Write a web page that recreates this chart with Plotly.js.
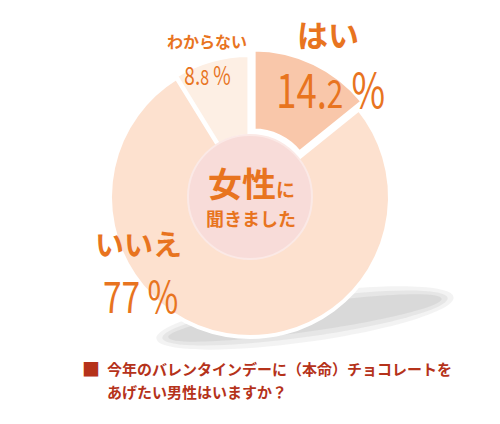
<!DOCTYPE html>
<html>
<head>
<meta charset="utf-8">
<script src="https://cdn.plot.ly/plotly-3.0.1.min.js"></script>
<style>
  html, body { margin: 0; padding: 0; background: #fff; }
  #plotDiv { width: 500px; height: 424px; }
  /* the percentage figures are drawn in a narrow face in the original */
  .annotation[data-index="1"] text,
  .annotation[data-index="3"] text,
  .annotation[data-index="5"] text {
      transform-box: fill-box;
      transform-origin: center;
      transform: scaleX(0.76);
  }
</style>
</head>
<body>
<div id="plotDiv"></div>
<script>
/* =========================
   Survey pie (donut)
========================= */

const labels = ['はい', 'いいえ', 'わからない'];
const values = [14.2, 77, 8.8];
const sliceColors = ['#f9c7aa', '#fde1cf', '#fdefe4'];
const slicePull = [0.06, 0, 0.015];
const centerLines = ['女性', 'に', '聞きました'];
const question = ['今年のバレンタインデーに（本命）チョコレートを', 'あげたい男性はいますか？'];

const W = 500, H = 424;
const ORANGE = '#e8741f';
const JP = '"Noto Sans CJK JP", "Noto Sans", sans-serif';

// pixel helpers (margins are zero, so paper == pixels / size)
const px = x => x / W;
const py = y => 1 - y / H;

function pctText(v, size) {
    const [whole, dec] = String(v).split('.');
    const decPart = dec ? `.<span style="font-size:${Math.round(size * 0.82)}px">${dec}</span>` : '';
    return `${whole}${decPart} %`;
}

// tilted ellipse drawn as a bezier path (used for the floor shadow)
function ellipsePath(cx, cy, a, b, deg) {
    const t = deg * Math.PI / 180, k = 0.5523;
    const pt = (u, v) => {
        const x = cx + u * Math.cos(t) - v * Math.sin(t);
        const y = cy + u * Math.sin(t) + v * Math.cos(t);
        return `${px(x).toFixed(4)},${py(y).toFixed(4)}`;
    };
    return `M${pt(a, 0)} C${pt(a, b * k)} ${pt(a * k, b)} ${pt(0, b)}` +
        ` C${pt(-a * k, b)} ${pt(-a, b * k)} ${pt(-a, 0)}` +
        ` C${pt(-a, -b * k)} ${pt(-a * k, -b)} ${pt(0, -b)}` +
        ` C${pt(a * k, -b)} ${pt(a, -b * k)} ${pt(a, 0)} Z`;
}

const cx = 250, cy = 197, R = 140, holeR = 62;
const maxPull = Math.max(...slicePull);
const domR = R * (1 + maxPull);

const donut = {
    type: 'pie',
    labels,
    values,
    sort: false,
    direction: 'clockwise',
    rotation: 0,
    hole: 0.42,
    pull: slicePull,
    textinfo: 'none',
    hoverinfo: 'skip',
    showlegend: false,
    marker: { colors: sliceColors, line: { color: '#ffffff', width: 4 } },
    domain: { x: [px(cx - domR), px(cx + domR)], y: [py(cy + domR), py(cy - domR)] }
};

const centerDisc = {
    type: 'pie',
    labels: ['center'],
    values: [1],
    textinfo: 'none',
    hoverinfo: 'skip',
    showlegend: false,
    marker: { colors: ['#f8dcd9'], line: { color: '#fbe9e6', width: 2 } },
    domain: { x: [px(cx - holeR), px(cx + holeR)], y: [py(cy + holeR), py(cy - holeR)] }
};

const labelPos = [
    { name: [328, 33, 31], pct: [330, 87, 48] },
    { name: [138, 243, 29], pct: [140, 294, 44] },
    { name: [207, 41, 16], pct: [207, 74, 25] }
];

const annotations = [];
labels.forEach((lab, i) => {
    const p = labelPos[i];
    annotations.push({
        xref: 'paper', yref: 'paper', x: px(p.name[0]), y: py(p.name[1]),
        text: `<b>${lab}</b>`, showarrow: false, xanchor: 'center', yanchor: 'middle',
        font: { family: JP, size: p.name[2], color: ORANGE }
    });
    annotations.push({
        xref: 'paper', yref: 'paper', x: px(p.pct[0]), y: py(p.pct[1]),
        text: pctText(values[i], p.pct[2]), showarrow: false, xanchor: 'center', yanchor: 'middle',
        font: { family: JP, size: p.pct[2], color: ORANGE }
    });
});

annotations.push(
    {
        xref: 'paper', yref: 'paper', x: px(251), y: py(182),
        text: `<b>${centerLines[0]}</b><b><span style="font-size:19px">${centerLines[1]}</span></b>`,
        showarrow: false, xanchor: 'center', yanchor: 'middle',
        font: { family: JP, size: 34, color: ORANGE }
    },
    {
        xref: 'paper', yref: 'paper', x: px(251), y: py(218),
        text: `<b>${centerLines[2]}</b>`,
        showarrow: false, xanchor: 'center', yanchor: 'middle',
        font: { family: JP, size: 18, color: ORANGE }
    },
    {
        xref: 'paper', yref: 'paper', x: px(80), y: py(368),
        text: '■', showarrow: false, xanchor: 'left', yanchor: 'middle',
        font: { family: JP, size: 18, color: '#b5321a' }
    }
);
question.forEach((line, i) => {
    annotations.push({
        xref: 'paper', yref: 'paper', x: px(105), y: py(368 + i * 23),
        text: `<b>${line}</b>`, showarrow: false, xanchor: 'left', yanchor: 'middle',
        font: { family: JP, size: 15, color: '#b5321a' }
    });
});

const shadows = [
    { a: 150, b: 24, op: 0.10 },
    { a: 144, b: 19, op: 0.12 },
    { a: 138, b: 14, op: 0.14 }
].map(s => ({
    type: 'path', layer: 'below', xref: 'paper', yref: 'paper',
    path: ellipsePath(305, 318, s.a, s.b, -8),
    fillcolor: `rgba(140,140,140,${s.op})`, line: { width: 0 }
}));

const layout = {
    width: W,
    height: H,
    margin: { l: 0, r: 0, t: 0, b: 0 },
    paper_bgcolor: '#ffffff',
    plot_bgcolor: '#ffffff',
    showlegend: false,
    shapes: shadows,
    annotations
};

Plotly.newPlot('plotDiv', [donut, centerDisc], layout, { displayModeBar: false, staticPlot: true });
</script>
</body>
</html>
